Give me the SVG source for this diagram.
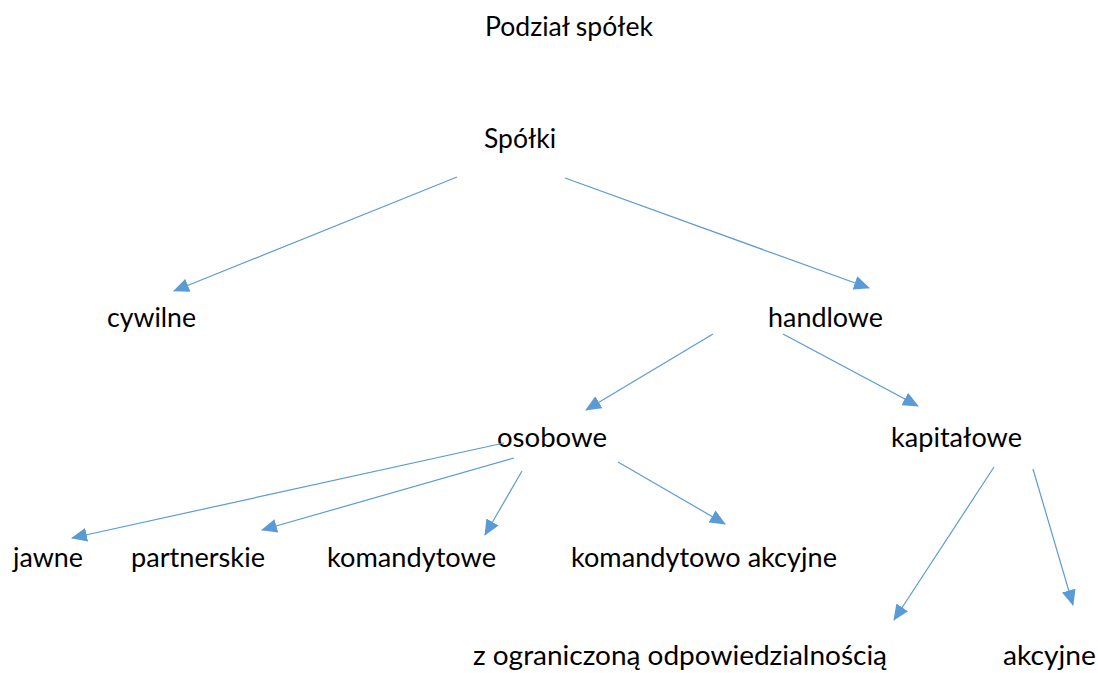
<svg xmlns="http://www.w3.org/2000/svg" width="1098" height="673" viewBox="0 0 1098 673">
<style>
text{font-family:Lato,"Open Sans","Liberation Sans",sans-serif;font-size:27px;fill:#000}
.c{stroke:#5B9BD5;stroke-width:1.2;fill:none;marker-end:url(#ah)}
</style>
<defs>
<marker id="ah" viewBox="0 0 16 14" markerWidth="16" markerHeight="14" refX="15" refY="7" orient="auto" markerUnits="userSpaceOnUse">
<path d="M0,0 L16,7 L0,14 Z" fill="#5B9BD5"/>
</marker>
</defs>
<rect width="1098" height="673" fill="#fff"/>
<g id="title"><text x="485" y="36" textLength="168" lengthAdjust="spacingAndGlyphs">Podział spółek</text></g>
<g id="spolki"><text x="484" y="148" textLength="72" lengthAdjust="spacingAndGlyphs">Spółki</text></g>
<g id="cywilne"><text x="107" y="327" textLength="89" lengthAdjust="spacingAndGlyphs">cywilne</text></g>
<g id="handlowe"><text x="768" y="327" textLength="115" lengthAdjust="spacingAndGlyphs">handlowe</text></g>
<g id="osobowe"><text x="497" y="447" textLength="110" lengthAdjust="spacingAndGlyphs">osobowe</text></g>
<g id="kapitalowe"><text x="891" y="447" textLength="131" lengthAdjust="spacingAndGlyphs">kapitałowe</text></g>
<g id="jawne"><text x="13" y="567" textLength="70" lengthAdjust="spacingAndGlyphs">jawne</text></g>
<g id="partnerskie"><text x="131" y="567" textLength="134" lengthAdjust="spacingAndGlyphs">partnerskie</text></g>
<g id="komandytowe"><text x="327" y="567" textLength="169" lengthAdjust="spacingAndGlyphs">komandytowe</text></g>
<g id="komandytowo-akcyjne"><text x="571" y="567" textLength="266" lengthAdjust="spacingAndGlyphs">komandytowo akcyjne</text></g>
<g id="zoo"><text x="473" y="665" textLength="414" lengthAdjust="spacingAndGlyphs">z ograniczoną odpowiedzialnością</text></g>
<g id="akcyjne"><text x="1003" y="665" textLength="93" lengthAdjust="spacingAndGlyphs">akcyjne</text></g>
<g id="connectors">
<line class="c" x1="457" y1="177" x2="174" y2="291"/>
<line class="c" x1="565" y1="178" x2="869" y2="288"/>
<line class="c" x1="713" y1="334" x2="586" y2="410"/>
<line class="c" x1="783" y1="334" x2="918" y2="406"/>
<line class="c" x1="504" y1="443" x2="72" y2="538"/>
<line class="c" x1="514" y1="458" x2="262" y2="530"/>
<line class="c" x1="522" y1="471" x2="485" y2="535"/>
<line class="c" x1="618" y1="462" x2="725" y2="524"/>
<line class="c" x1="994" y1="467" x2="894" y2="620"/>
<line class="c" x1="1033" y1="469" x2="1073" y2="605"/>
</g>
</svg>
